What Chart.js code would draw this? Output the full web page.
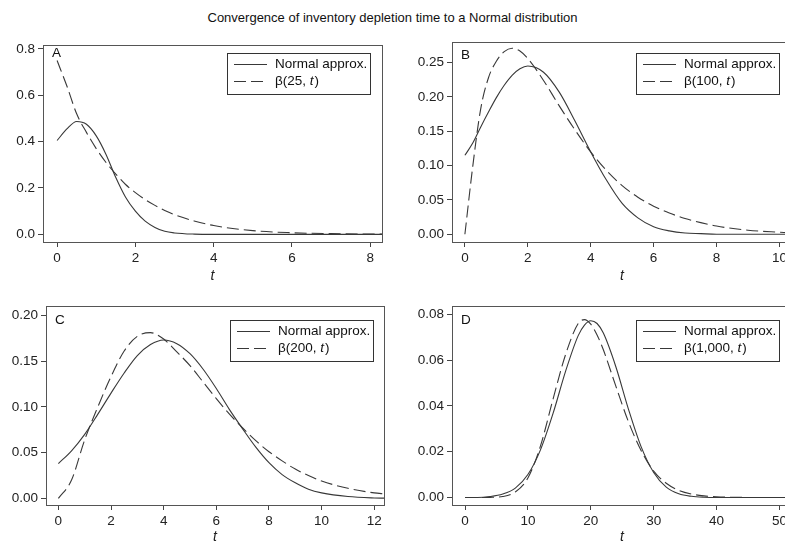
<!DOCTYPE html>
<html>
<head>
<meta charset="utf-8">
<script src="https://cdn.jsdelivr.net/npm/chart.js@4.4.1/dist/chart.umd.min.js"></script>
<style>
  body { margin: 0; background: #fff; overflow: hidden; width: 785px; height: 546px; position: relative; }
  #title { position: absolute; left: 0; top: 10px; width: 785px; text-align: center;
           font: 13px "Liberation Sans", Arial, sans-serif; line-height: 15px; color: #111; }
  canvas { position: absolute; }
</style>
</head>
<body>
<div id="title">Convergence of inventory depletion time to a Normal distribution</div>
<canvas id="chartA" width="395" height="265" style="left:0px;top:30px"></canvas>
<canvas id="chartB" width="410" height="265" style="left:395px;top:30px"></canvas>
<canvas id="chartC" width="395" height="251" style="left:0px;top:295px"></canvas>
<canvas id="chartD" width="410" height="251" style="left:395px;top:295px"></canvas>
<script>
// panel A  beta(25, t)
var tA = [0, 0.25, 0.5, 0.75, 1, 1.25, 1.5, 1.75, 2, 2.25, 2.5, 2.75, 3, 3.5, 4, 5, 6, 7, 8, 8.3];
var normalA = [0.405, 0.455, 0.487, 0.475, 0.425, 0.345, 0.245, 0.16, 0.1, 0.057, 0.03, 0.013, 0.006, 0.001, 0, 0, 0, 0, 0, 0];
var betaA = [0.75, 0.64, 0.52, 0.44, 0.37, 0.31, 0.26, 0.215, 0.18, 0.15, 0.125, 0.103, 0.085, 0.058, 0.038, 0.016, 0.007, 0.003, 0.001, 0.001];
var xTicksA = [0, 2, 4, 6, 8];
var yTicksA = [0, 0.2, 0.4, 0.6, 0.8];

// panel B  beta(100, t)
var tB = [0, 0.25, 0.5, 0.75, 1, 1.25, 1.5, 1.75, 2, 2.5, 3, 3.5, 4, 4.5, 5, 5.5, 6, 6.5, 7, 7.5, 8, 9, 10, 10.4];
var normalB = [0.115, 0.133, 0.156, 0.178, 0.199, 0.217, 0.2315, 0.241, 0.245, 0.236, 0.207, 0.165, 0.12, 0.079, 0.045, 0.024, 0.011, 0.005, 0.002, 0.001, 0, 0, 0, 0];
var betaB = [0, 0.099, 0.182, 0.228, 0.252, 0.266, 0.271, 0.267, 0.256, 0.224, 0.187, 0.152, 0.12, 0.093, 0.071, 0.054, 0.041, 0.031, 0.023, 0.017, 0.012, 0.006, 0.003, 0.002];
var xTicksB = [0, 2, 4, 6, 8, 10];
var yTicksB = [0, 0.05, 0.1, 0.15, 0.2, 0.25];

// panel C  beta(200, t)
var tC = [0, 0.5, 1, 1.5, 2, 2.5, 3, 3.5, 4, 4.5, 5, 5.5, 6, 6.5, 7, 7.5, 8, 8.5, 9, 9.5, 10, 11, 12, 12.4];
var normalC = [0.038, 0.052, 0.07, 0.092, 0.115, 0.137, 0.156, 0.168, 0.173, 0.169, 0.158, 0.141, 0.12, 0.097, 0.076, 0.056, 0.039, 0.026, 0.017, 0.01, 0.006, 0.002, 0.0005, 0.0003];
var betaC = [0, 0.02, 0.064, 0.1, 0.133, 0.161, 0.177, 0.181, 0.174, 0.16, 0.145, 0.127, 0.109, 0.092, 0.077, 0.063, 0.051, 0.041, 0.032, 0.025, 0.019, 0.011, 0.006, 0.0048];
var xTicksC = [0, 2, 4, 6, 8, 10, 12];
var yTicksC = [0, 0.05, 0.1, 0.15, 0.2];

// panel D  beta(1,000, t)
var tD = [0, 2, 4, 6, 8, 10, 12, 14, 16, 18, 19, 20, 21, 22, 24, 26, 28, 30, 32, 34, 36, 38, 40, 42, 45, 50, 52];
var normalD = [0, 0, 0.0004, 0.0015, 0.0041, 0.01, 0.0208, 0.0367, 0.0552, 0.0707, 0.0753, 0.0772, 0.076, 0.0718, 0.057, 0.0385, 0.0222, 0.0109, 0.0045, 0.0016, 0.0005, 0.0001, 0, 0, 0, 0, 0];
var betaD = [0, 0, 0.00005, 0.0004, 0.0024, 0.0085, 0.0225, 0.043, 0.0625, 0.076, 0.0777, 0.0757, 0.071, 0.0645, 0.0485, 0.033, 0.0205, 0.0115, 0.0062, 0.0031, 0.0015, 0.0007, 0.0003, 0.0001, 0, 0, 0];
var xTicksD = [0, 10, 20, 30, 40, 50];
var yTicksD = [0, 0.02, 0.04, 0.06, 0.08];

var FONT = '"Liberation Sans", Arial, sans-serif';
var LINE = '#383838';
var DASH = [12, 5];

function pts(xs, ys) {
  return xs.map(function (x, i) { return { x: x, y: ys[i] }; });
}

// box round the plot, the panel letter and the legend inside it
var panelPlugin = {
  id: 'panel',
  afterDatasetsDraw: function (chart) {
    var o = chart.options.plugins.panel;
    var a = chart.chartArea;
    var ctx = chart.ctx;
    ctx.save();
    ctx.setLineDash([]);
    ctx.lineWidth = 1;
    ctx.strokeStyle = '#555';
    ctx.strokeRect(Math.round(a.left) + 0.5, Math.round(a.top) + 0.5, Math.round(a.right - a.left), Math.round(a.bottom - a.top));

    ctx.fillStyle = '#111';
    ctx.textBaseline = 'middle';
    ctx.textAlign = 'left';
    ctx.font = '13.5px ' + FONT;
    ctx.fillText(o.letter, a.left + 9, a.top + o.letterY);

    var lx = Math.round(a.left) + 184, ly = Math.round(a.top) + o.legendY;
    ctx.strokeStyle = '#333';
    ctx.strokeRect(lx + 0.5, ly + 0.5, 143, 41);
    var rows = [ly + 11.5, ly + 28.5];
    chart.data.datasets.forEach(function (ds, i) {
      ctx.beginPath();
      ctx.strokeStyle = ds.borderColor;
      ctx.setLineDash(ds.borderDash || []);
      ctx.moveTo(lx + 7, rows[i]);
      ctx.lineTo(lx + 40, rows[i]);
      ctx.stroke();
    });
    ctx.setLineDash([]);
    var tx = lx + 48;
    ctx.font = '13.5px ' + FONT;
    ctx.fillText(chart.data.datasets[0].label, tx, rows[0]);
    var head = '\u03b2(' + o.n + ', ';
    ctx.fillText(head, tx, rows[1]);
    tx += ctx.measureText(head).width;
    ctx.font = 'italic 13.5px ' + FONT;
    ctx.fillText('t', tx, rows[1]);
    tx += ctx.measureText('t').width + 1;
    ctx.font = '13.5px ' + FONT;
    ctx.fillText(')', tx, rows[1]);
    ctx.restore();
  }
};

function makePanel(id, p) {
  return new Chart(document.getElementById(id), {
    type: 'line',
    data: {
      datasets: [{
        label: 'Normal approx.',
        data: pts(p.t, p.normal),
        borderColor: LINE,
        borderWidth: 1.1,
        pointRadius: 0,
        cubicInterpolationMode: 'monotone'
      }, {
        label: '\u03b2(' + p.n + ', t)',
        data: pts(p.t, p.beta),
        borderColor: LINE,
        borderWidth: 1.1,
        borderDash: DASH,
        pointRadius: 0,
        cubicInterpolationMode: 'monotone'
      }]
    },
    options: {
      responsive: false,
      animation: false,
      devicePixelRatio: 1,
      layout: { padding: { top: p.padTop, right: p.padRight, left: 0, bottom: 0 } },
      plugins: {
        legend: { display: false },
        tooltip: { enabled: false },
        panel: { letter: p.letter, n: p.n, letterY: p.letterY, legendY: p.legendY }
      },
      scales: {
        x: {
          type: 'linear',
          min: p.xMin, max: p.xMax,
          afterFit: function (s) { s.height = p.xAxisH; },
          afterBuildTicks: function (s) { s.ticks = p.xTicks.map(function (v) { return { value: v }; }); },
          border: { display: false },
          grid: { drawOnChartArea: false, drawTicks: true, tickLength: 5, tickColor: '#444' },
          ticks: {
            autoSkip: false, maxRotation: 0, padding: 3, color: '#222',
            font: { family: FONT, size: 13.5 },
            callback: function (v) { return String(v); }
          },
          title: { display: true, text: 't', color: '#222',
                   font: { family: FONT, size: 14, style: 'italic' },
                   padding: { top: 0, bottom: p.titlePad } }
        },
        y: {
          min: p.yMin, max: p.yMax,
          afterFit: function (s) { s.width = p.yAxisW; },
          afterBuildTicks: function (s) { s.ticks = p.yTicks.map(function (v) { return { value: v }; }); },
          border: { display: false },
          grid: { drawOnChartArea: false, drawTicks: true, tickLength: 5, tickColor: '#444' },
          ticks: {
            padding: 3, color: '#222',
            font: { family: FONT, size: 13.5 },
            callback: function (v) { return Number(v).toFixed(p.dec); }
          }
        }
      }
    },
    plugins: [panelPlugin]
  });
}

makePanel('chartA', {
  letter: 'A', n: '25', t: tA, normal: normalA, beta: betaA, xTicks: xTicksA, yTicks: yTicksA, dec: 1,
  xMin: -0.36, xMax: 8.3, yMin: -0.033, yMax: 0.817,
  padTop: 15, padRight: 13, yAxisW: 43, xAxisH: 53, titlePad: 10, letterY: 8, legendY: 8
});
makePanel('chartB', {
  letter: 'B', n: '100', t: tB, normal: normalB, beta: betaB, xTicks: xTicksB, yTicks: yTicksB, dec: 2,
  xMin: -0.41, xMax: 10.4, yMin: -0.0112, yMax: 0.280,
  padTop: 12, padRight: 13, yAxisW: 57, xAxisH: 53, titlePad: 10, letterY: 13, legendY: 11
});
makePanel('chartC', {
  letter: 'C', n: '200', t: tC, normal: normalC, beta: betaC, xTicks: xTicksC, yTicks: yTicksC, dec: 2,
  xMin: -0.47, xMax: 12.37, yMin: -0.0072, yMax: 0.210,
  padTop: 9, padRight: 11, yAxisW: 46, xAxisH: 41, titlePad: 0, letterY: 14, legendY: 14
});
makePanel('chartD', {
  letter: 'D', n: '1,000', t: tD, normal: normalD, beta: betaD, xTicks: xTicksD, yTicks: yTicksD, dec: 2,
  xMin: -2.07, xMax: 52, yMin: -0.0033, yMax: 0.0836,
  padTop: 9, padRight: 13, yAxisW: 57, xAxisH: 41, titlePad: 0, letterY: 14, legendY: 14
});
</script>
</body>
</html>
